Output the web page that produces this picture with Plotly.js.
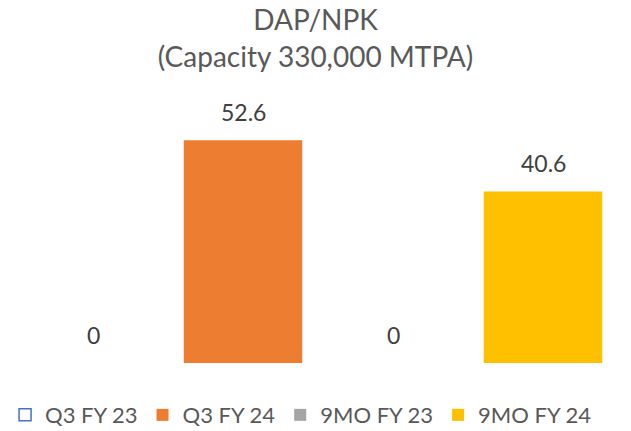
<!DOCTYPE html>
<html>
<head>
<meta charset="utf-8">
<script src="https://cdn.plot.ly/plotly-3.0.1.min.js"></script>
<style>html,body{margin:0;padding:0;background:#fff;}#chart{width:631px;height:431px;}</style>
</head>
<body>
<div id="chart"></div>
<script>
const categories = ["Q3 FY 23", "Q3 FY 24", "9MO FY 23", "9MO FY 24"];
const values = [0, 52.6, 0, 40.6];
const labels = ["0", "52.6", "0", "40.6"];
const fillColors = ["#FFFFFF", "#ED7D31", "#A5A5A5", "#FFC000"];
const lineColors = ["#4472C4", "#ED7D31", "#A5A5A5", "#FFC000"];
const lineWidths = [1.5, 0, 0, 0];

const FONT = "Lato, 'Open Sans', sans-serif";
const Y_MIN = 0.4, Y_MAX = 60.4;

const traces = categories.map((c, i) => ({
  type: "bar",
  name: c,
  x: [c],
  y: [values[i]],
  width: 0.79,
  cliponaxis: true,
  marker: { color: fillColors[i], line: { color: lineColors[i], width: lineWidths[i] } },
  hoverinfo: "none"
}));

const annotations = categories.map((c, i) => ({
  x: c, y: Math.max(values[i], Y_MIN), xref: "x", yref: "y",
  text: labels[i], showarrow: false,
  yanchor: "bottom", yshift: 12,
  font: { family: FONT, size: 23, color: "#404040" }
}));

const layout = {
  width: 631, height: 431,
  paper_bgcolor: "#fff", plot_bgcolor: "#fff",
  margin: { l: 18, r: 13, t: 107, b: 68 },
  title: {
    text: "DAP/NPK<br>(Capacity 330,000 MTPA)",
    font: { family: FONT, size: 28, color: "#595959" },
    x: 0.5, xanchor: "center", yref: "container", y: 0.93, yanchor: "middle"
  },
  barmode: "overlay",
  showlegend: true,
  legend: {
    orientation: "h", xref: "container", yref: "container",
    x: 0.008, xanchor: "left", y: 0.037, yanchor: "middle",
    font: { family: FONT, size: 22, color: "#595959" },
    itemwidth: 30, traceorder: "normal"
  },
  xaxis: { type: "category", categoryarray: categories, showticklabels: false, showgrid: false, zeroline: false, showline: false, ticks: "" },
  yaxis: { range: [Y_MIN, Y_MAX], showticklabels: false, showgrid: false, zeroline: false, showline: false, ticks: "" },
  annotations: annotations
};

Plotly.newPlot("chart", traces, layout, { displayModeBar: false, staticPlot: true });
</script>
</body>
</html>
